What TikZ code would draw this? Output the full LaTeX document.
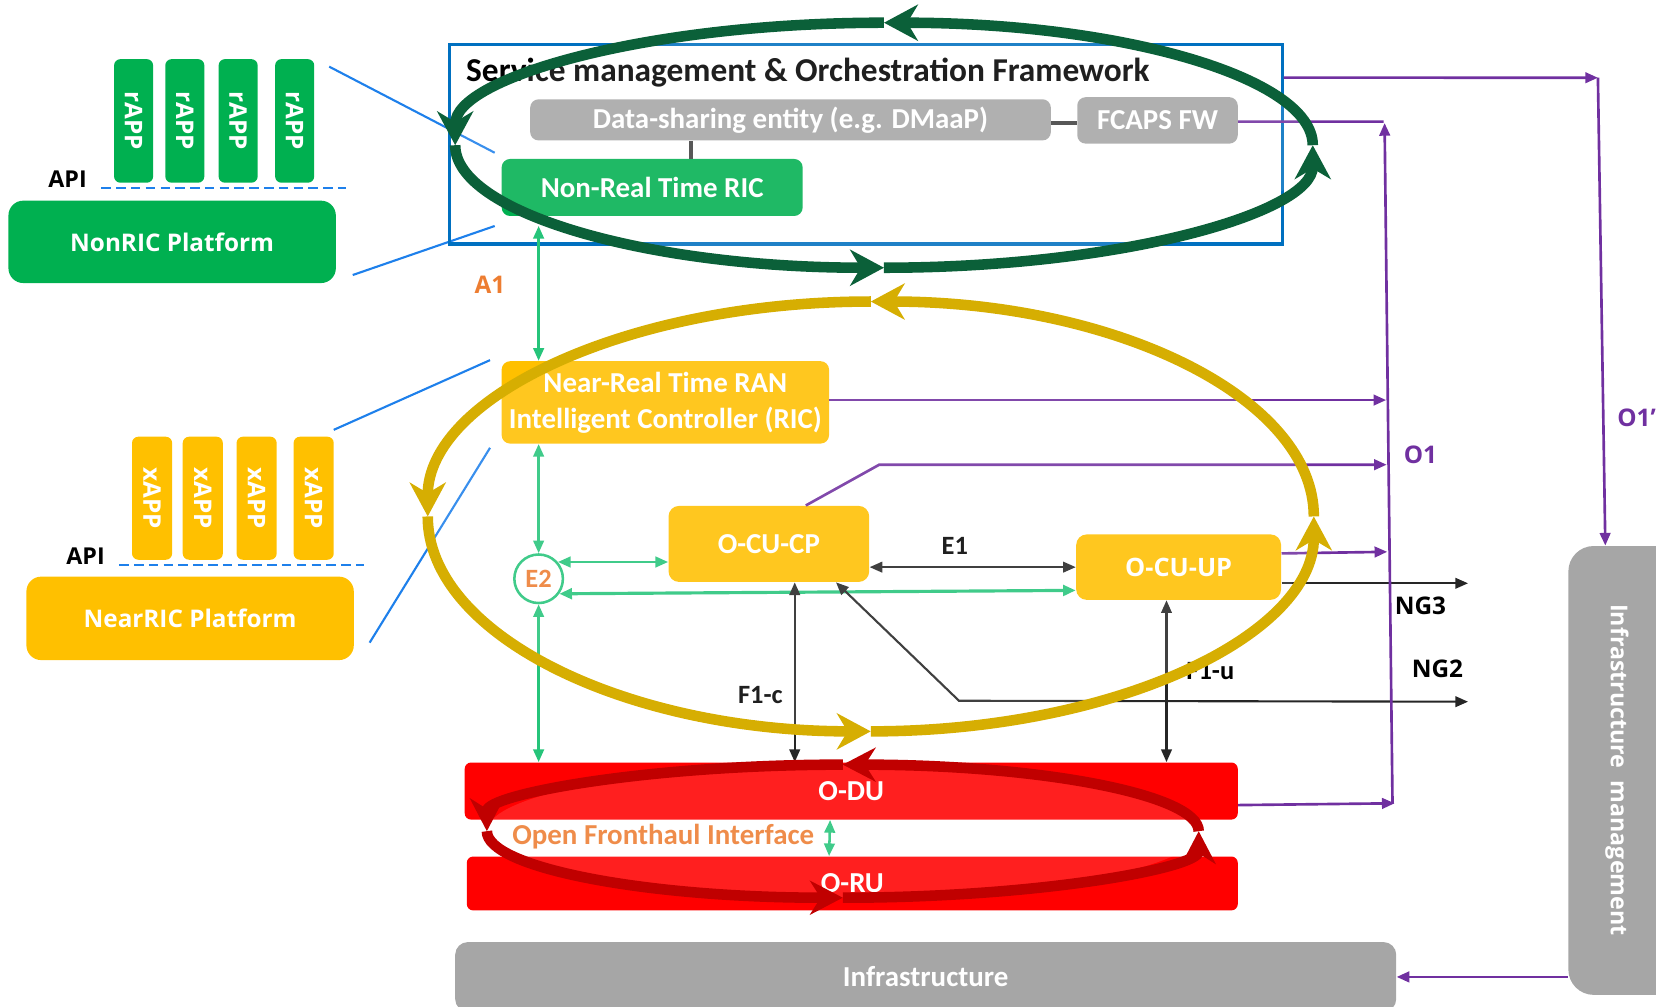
\documentclass[tikz,border=0pt]{standalone}
\usepackage{fontspec}
\setmainfont{Carlito}
\newfontfamily\osans{Open Sans}
\usetikzlibrary{arrows.meta}

\definecolor{smoblue}{RGB}{0,112,192}
\definecolor{linkblue}{RGB}{30,128,235}
\definecolor{appgreen}{RGB}{0,176,80}
\definecolor{loopgreen}{RGB}{11,96,57}
\definecolor{ifgreen}{RGB}{38,196,122}
\definecolor{appyellow}{RGB}{255,192,0}
\definecolor{loopyellow}{RGB}{214,174,2}
\definecolor{radiored}{RGB}{255,0,0}
\definecolor{loopred}{RGB}{192,0,0}
\definecolor{fwgray}{RGB}{166,166,166}
\definecolor{oampurple}{RGB}{112,48,160}
\definecolor{ifaceorange}{RGB}{237,125,49}
\definecolor{linkdark}{RGB}{38,38,38}
\definecolor{joingray}{RGB}{64,64,64}

% closed control loop: four quarter arcs, each ending in an arrow head
\newcommand{\cyclering}[5]{% style, cx, cy, rx, ry
  \fill[white, fill opacity=0.12] (#2,#3) ellipse [x radius=#4, y radius=#5];
  \draw[#1] (#2+#4,#3) arc[start angle=0, end angle=-90, x radius=#4, y radius=#5];
  \draw[#1] (#2,#3-#5) arc[start angle=-90, end angle=-180, x radius=#4, y radius=#5];
  \draw[#1] (#2-#4,#3) arc[start angle=-180, end angle=-270, x radius=#4, y radius=#5];
  \draw[#1] (#2,#3+#5) arc[start angle=-270, end angle=-360, x radius=#4, y radius=#5];
}

\tikzset{
  >={Triangle[length=6pt,width=5pt]},
  blk/.style={rounded corners=4pt, inner sep=0pt, text=white,
    font=\fontsize{13.7}{16}\selectfont\bfseries},
  osblk/.style={blk, font=\osans\bfseries\fontsize{11.5}{14}\selectfont},
  appbox/.style={osblk, fill=#1, rounded corners=3pt, rotate=-90,
    minimum width=58.5pt, minimum height=18.5pt},
  platform/.style={osblk, rounded corners=7pt, minimum width=155pt, minimum height=39pt},
  apilbl/.style={font=\osans\bfseries\fontsize{11}{13}\selectfont, inner sep=0pt},
  oslbl/.style={font=\osans\bfseries\fontsize{11.5}{14}\selectfont, inner sep=0pt},
  cblbl/.style={font=\fontsize{12.5}{15}\selectfont\bfseries, inner sep=0pt},
  apidash/.style={draw=linkblue, line width=1pt, dash pattern=on 4.5pt off 2.5pt},
  bluelink/.style={draw=linkblue, line width=1pt},
  oam/.style={draw=oampurple, line width=1.25pt},
  ifline/.style={draw=ifgreen, line width=1.2pt},
  blkline/.style={draw=linkdark, line width=1pt},
  loopg/.style={draw=loopgreen, line width=5pt, -{Stealth[length=16pt,width=17pt,inset=5pt]}},
  loopy/.style={draw=loopyellow, line width=5pt, -{Stealth[length=16pt,width=17pt,inset=5pt]}},
  loopr/.style={draw=loopred, line width=5pt, -{Stealth[length=15.5pt,width=16pt,inset=5pt]}},
}

\begin{document}
\begin{tikzpicture}[x=0.5pt,y=-0.5pt]
\useasboundingbox (0,0) rectangle (1568,953);

% ---------- Non-RT side: rApps and platform ----------
\node[appbox=appgreen] (rapp1) at (126.5,114.5) {rAPP};
\node[appbox=appgreen] (rapp2) at (175,114.5) {rAPP};
\node[appbox=appgreen] (rapp3) at (225.5,114.5) {rAPP};
\node[appbox=appgreen] (rapp4) at (279,114.5) {rAPP};
\node[platform, fill=appgreen] (nonricplat) at (163,229) {NonRIC Platform};
\node[apilbl] (api1) at (64,170) {API};
\coordinate (dash1a) at (96,178);
\coordinate (dash1b) at (328,178);
\draw[apidash] (dash1a) -- (dash1b);

% ---------- Near-RT side: xApps and platform ----------
\node[appbox=appyellow, minimum width=58.25pt, minimum height=19pt] (xapp1) at (144,471.75) {xAPP};
\node[appbox=appyellow, minimum width=58.25pt, minimum height=19pt] (xapp2) at (192,471.75) {xAPP};
\node[appbox=appyellow, minimum width=58.25pt, minimum height=19pt] (xapp3) at (243,471.75) {xAPP};
\node[appbox=appyellow, minimum width=58.25pt, minimum height=19pt] (xapp4) at (297,471.75) {xAPP};
\node[platform, fill=appyellow, minimum height=39.5pt] (nearricplat) at (180,585.5) {NearRIC Platform};
\node[apilbl] (api2) at (81,527) {API};
\coordinate (dash2a) at (113,535);
\coordinate (dash2b) at (345,535);
\draw[apidash] (dash2a) -- (dash2b);

% zoom-out guide lines
\coordinate (l1a) at (311.7,63.1);  \coordinate (l1b) at (468.4,144.6);
\coordinate (l2a) at (334,260.4);   \coordinate (l2b) at (468.4,214);
\coordinate (l3a) at (316,407);     \coordinate (l3b) at (464,341);
\coordinate (l4a) at (350,608.5);   \coordinate (l4b) at (464,424);
\draw[bluelink] (l1a) -- (l1b);
\draw[bluelink] (l2a) -- (l2b);
\draw[bluelink] (l3a) -- (l3b);
\draw[bluelink] (l4a) -- (l4b);

% ---------- SMO framework ----------
\node[draw=smoblue, line width=1.5pt, minimum width=394pt, minimum height=94.5pt, inner sep=0pt] (smo) at (820,136.5) {};
\node[anchor=west, inner sep=0pt, font=\fontsize{15.8}{18}\selectfont\bfseries] (smotitle) at (441,69) {Service management \& Orchestration Framework};
\node[blk, fill=fwgray, minimum width=246.5pt, minimum height=19.5pt] (dmaap) at (748.5,113.5) {Data-sharing entity (e.g. DMaaP)};
\node[blk, fill=fwgray, minimum width=76pt, minimum height=22pt] (fcaps) at (1096,114) {FCAPS FW};
\node[blk, fill=appgreen, minimum width=142.5pt, minimum height=27pt] (nonrtric) at (617.5,177.5) {Non-Real Time RIC};
\draw[draw=joingray, line width=1.5pt] ([yshift=-1.5pt]dmaap.east) -- ([yshift=-1.5pt]dmaap.east -| fcaps.west);
\draw[draw=joingray, line width=1.5pt] ([xshift=-47.1pt]dmaap.south) -- ([xshift=18.4pt]nonrtric.north);

% ---------- RAN nodes ----------
\node[blk, fill=appyellow, minimum width=155pt, minimum height=39pt, align=center,
      font=\fontsize{13.7}{17}\selectfont\bfseries] (nearric) at (630,381) {Near-Real Time RAN\\Intelligent Controller (RIC)};
\node[circle, draw=ifgreen, line width=1.2pt, fill=white, minimum size=23pt, inner sep=0pt,
      text=ifaceorange, font=\fontsize{12.5}{15}\selectfont\bfseries] (e2) at (510,548) {E2};
\node[blk, fill=appyellow, rounded corners=5pt, minimum width=95pt, minimum height=36pt] (ocucp) at (728,515) {O-CU-CP};
\node[osblk, fill=appyellow, rounded corners=5pt, minimum width=97pt, minimum height=31pt,
      font=\osans\bfseries\fontsize{12}{14}\selectfont] (ocuup) at (1116,537) {O-CU-UP};
\node[blk, fill=radiored, rounded corners=3pt, minimum width=366pt, minimum height=27pt] (odu) at (806,749) {O-DU};
\node[blk, fill=radiored, rounded corners=3pt, minimum width=365pt, minimum height=25.5pt] (oru) at (807,836.5) {O-RU};
\node[blk, fill=fwgray, rounded corners=6pt, minimum width=445.5pt, minimum height=33pt] (infra) at (876.5,925) {Infrastructure};
\node[fill=fwgray, rounded corners=12pt, minimum width=77.5pt, minimum height=212.5pt, inner sep=0pt] (imgmt) at (1562.5,729.5) {};
\node[rotate=-90, text=white, font=\osans\bfseries\fontsize{11}{13}\selectfont, inner sep=0pt] (imgmtlbl) at (1531,729) {Infrastructure\ \ management};

% ---------- green interfaces (A1, E2, fronthaul) ----------
\draw[ifline, <->, shorten <=4.5pt] ([xshift=-53.75pt]nonrtric.south) -- ([xshift=-60pt]nearric.north);
\draw[ifline, <->] ([xshift=-60pt]nearric.south) -- (e2.north);
\draw[ifline, <->] (e2.south) -- ([xshift=-148pt]odu.north);
\draw[ifline, <->] (e2.41) -- (ocucp.west |- e2.41);
\draw[ifline, <->, line width=1.5pt] (e2.-36) -- ([yshift=-11pt]ocuup.west);
\draw[ifline, <->] ([xshift=-10pt]odu.south) -- ([xshift=-11pt]oru.north);

% ---------- black interfaces (E1, F1, NG) ----------
\draw[blkline, <->] ([yshift=-11pt]ocucp.east) -- (ocuup.west);
\draw[blkline, <->] ([xshift=12.25pt]ocucp.south) -- ([xshift=-26.75pt]odu.north);
\draw[blkline, <->] ([xshift=-5.75pt]ocuup.south) -- ([xshift=149.25pt]odu.north);
\coordinate (ng3end) at (1390,552.3);
\draw[blkline, ->] ([yshift=-7.65pt]ocuup.east) -- (ng3end);
\coordinate (ng2bend) at (908,663.5);
\coordinate (ng2end) at (1390,664.4);
\draw[blkline, <->] ([xshift=31.8pt]ocucp.south) -- (ng2bend) -- (ng2end);

% ---------- O1 / O1' management links ----------
\coordinate (o1ptop) at (1513,73.6);
\draw[oam, ->] ([yshift=31.5pt]smo.east) -- (o1ptop);
\draw[oam, ->] (o1ptop) -- ([xshift=-21.25pt]imgmt.north);
\coordinate (fcapsend) at (1310,115.2);
\draw[oam] ([yshift=-0.6pt]fcaps.east) -- (fcapsend);
\coordinate (o1top) at (1311,116.5);
\coordinate (o1bot) at (1318.5,761);
\draw[oam, ->] (o1bot) -- (o1top);
\coordinate (o1ric) at (1312.5,378.8);
\draw[oam, ->] ([yshift=1.1pt]nearric.east) -- (o1ric);
\coordinate (o1cpbend) at (832.5,440);
\coordinate (o1cp) at (1313,440);
\draw[oam, ->] ([xshift=17.5pt]ocucp.north) -- (o1cpbend) -- (o1cp);
\coordinate (o1up) at (1313.5,522.5);
\draw[oam, ->] ([yshift=6.5pt]ocuup.east) -- (o1up);
\coordinate (o1du) at (1320.5,760.6);
\draw[oam, ->] ([yshift=-6.65pt]odu.east) -- (o1du);
\draw[oam, ->] (imgmt.west |- infra.east) -- (infra.east);

% ---------- interface labels ----------
\node[oslbl, text=ifaceorange] (a1lbl) at (464,270) {A1};
\node[cblbl] (e1lbl) at (904,517) {E1};
\node[cblbl] (f1clbl) at (720,658) {F1-c};
\node[cblbl] (f1ulbl) at (1146,635) {F1-u};
\node[oslbl] (ng3lbl) at (1345,574) {NG3};
\node[oslbl] (ng2lbl) at (1361,633.5) {NG2};
\node[oslbl, text=oampurple] (o1lbl) at (1345,431) {O1};
\node[oslbl, text=oampurple, anchor=west] (o1plbl) at (1531,396) {O1’};
\node[font=\fontsize{13.7}{16}\selectfont\bfseries, inner sep=0pt, text=ifaceorange] (ofhlbl) at (628,792) {Open Fronthaul Interface};

% ---------- control loops ----------
\cyclering{loopg}{837}{137.5}{406}{116}
\cyclering{loopy}{824.5}{489}{419.5}{203.5}
\cyclering{loopr}{798}{787}{337}{63}

\end{tikzpicture}
\end{document}
